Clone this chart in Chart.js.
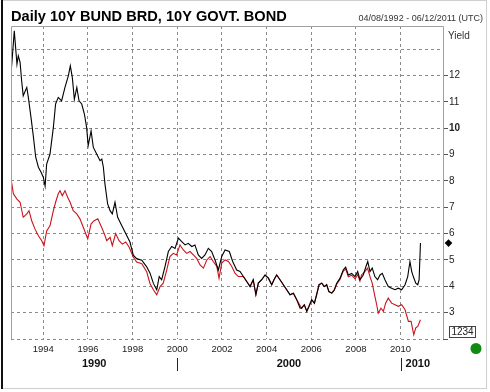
<!DOCTYPE html>
<html>
<head>
<meta charset="utf-8">
<script src="https://cdn.jsdelivr.net/npm/chart.js@4"></script>
<style>
html,body{margin:0;padding:0;background:#fff;}
#wrap{width:490px;height:392px;position:relative;}
</style>
</head>
<body>
<div id="wrap"><canvas id="c" width="490" height="392"></canvas></div>
<script>
// ---- data ----
const bundYears = [1992.55,1992.61,1992.70,1992.76,1992.82,1992.88,1992.96,1993.03,1993.10,1993.26,1993.33,1993.45,1993.55,1993.66,1993.78,1993.90,1994.00,1994.08,1994.15,1994.30,1994.45,1994.55,1994.67,1994.82,1994.97,1995.12,1995.21,1995.30,1995.39,1995.50,1995.60,1995.72,1995.84,1995.94,1996.01,1996.14,1996.24,1996.39,1996.54,1996.62,1996.69,1996.76,1996.88,1996.99,1997.09,1997.21,1997.33,1997.51,1997.69,1997.88,1998.03,1998.18,1998.41,1998.63,1998.78,1998.93,1999.08,1999.19,1999.30,1999.45,1999.60,1999.75,1999.90,2000.05,2000.20,2000.35,2000.49,2000.65,2000.79,2000.94,2001.09,2001.24,2001.39,2001.54,2001.69,2001.84,2001.99,2002.14,2002.33,2002.48,2002.66,2002.81,2002.96,2003.11,2003.26,2003.40,2003.52,2003.63,2003.78,2003.93,2004.08,2004.23,2004.33,2004.45,2004.60,2004.75,2004.90,2005.05,2005.20,2005.35,2005.50,2005.57,2005.69,2005.80,2005.90,2006.02,2006.14,2006.24,2006.35,2006.47,2006.58,2006.69,2006.79,2006.92,2007.03,2007.14,2007.29,2007.43,2007.54,2007.66,2007.81,2007.96,2008.08,2008.18,2008.33,2008.45,2008.53,2008.63,2008.73,2008.85,2008.97,2009.08,2009.18,2009.30,2009.45,2009.60,2009.75,2009.90,2010.05,2010.20,2010.32,2010.42,2010.50,2010.57,2010.68,2010.77,2010.83,2010.89];
const bundYield = [12.05,12.68,13.7,13.06,12.43,12.75,12.5,11.8,11.23,11.55,11.17,10.4,9.72,8.9,8.52,8.33,8.14,7.8,8.64,9.02,10.03,10.92,11.17,11.04,11.55,11.99,12.37,11.92,11.1,11.55,11.04,10.92,10.54,10.03,9.34,9.9,9.27,9.02,8.77,8.83,8.52,7.89,7.13,6.87,6.75,7.19,6.62,6.31,6.0,5.68,5.18,5.05,4.99,4.74,4.5,4.11,3.87,4.37,4.25,4.75,5.32,5.51,5.44,5.83,5.7,5.57,5.63,5.51,5.57,5.19,5.06,5.19,5.44,5.32,5.0,4.62,5.13,5.38,5.32,4.94,4.62,4.56,4.37,4.18,3.99,4.25,3.68,4.12,4.25,4.43,4.31,4.06,4.25,4.43,4.25,4.06,3.87,3.68,3.74,3.49,3.17,3.17,3.3,3.05,3.24,3.49,3.36,3.68,4.06,4.12,3.99,4.06,3.8,3.74,3.87,4.12,4.31,4.62,4.73,4.43,4.49,4.37,4.56,4.25,4.43,4.75,4.94,4.56,4.69,4.37,4.25,4.43,4.49,4.25,3.99,3.93,3.87,3.93,3.87,4.06,4.37,4.94,4.56,4.37,4.12,4.06,4.25,5.64];
const govtYears = [1992.55,1992.66,1992.81,1992.96,1993.10,1993.26,1993.36,1993.48,1993.63,1993.78,1993.93,1994.03,1994.15,1994.30,1994.45,1994.55,1994.67,1994.75,1994.85,1994.97,1995.09,1995.20,1995.34,1995.50,1995.64,1995.79,1995.99,1996.14,1996.28,1996.44,1996.58,1996.73,1996.84,1996.99,1997.09,1997.24,1997.39,1997.54,1997.69,1997.84,1998.03,1998.18,1998.41,1998.63,1998.78,1998.93,1999.08,1999.23,1999.37,1999.53,1999.67,1999.82,1999.97,2000.12,2000.27,2000.42,2000.57,2000.72,2000.87,2001.02,2001.17,2001.32,2001.47,2001.61,2001.77,2001.87,2001.99,2002.14,2002.29,2002.44,2002.59,2002.73,2002.96,2003.11,2003.26,2003.40,2003.52,2003.63,2003.78,2003.93,2004.08,2004.23,2004.33,2004.45,2004.60,2004.75,2004.90,2005.05,2005.20,2005.35,2005.57,2005.69,2005.80,2005.90,2006.02,2006.14,2006.24,2006.35,2006.47,2006.58,2006.69,2006.79,2006.92,2007.03,2007.14,2007.29,2007.43,2007.54,2007.66,2007.81,2007.96,2008.08,2008.18,2008.25,2008.40,2008.52,2008.63,2008.73,2008.82,2008.93,2009.00,2009.12,2009.23,2009.33,2009.45,2009.60,2009.75,2009.90,2010.05,2010.20,2010.35,2010.47,2010.59,2010.68,2010.77,2010.89];
const govtYield = [8.1,7.51,7.32,7.19,6.62,6.75,6.87,6.49,6.17,5.92,5.73,5.54,6.1,6.3,6.87,7.19,7.51,7.63,7.44,7.63,7.38,7.19,6.87,6.75,6.56,6.24,5.8,6.37,6.49,6.56,6.3,6.0,5.73,5.86,5.54,6.0,5.73,5.6,5.68,5.49,5.11,4.92,4.86,4.55,4.1,3.87,3.68,3.99,4.12,4.62,5.13,5.25,5.19,5.57,5.38,5.25,5.32,5.19,5.06,4.81,4.69,5.0,5.13,4.94,4.75,4.31,4.88,5.0,4.94,4.75,4.49,4.37,4.37,4.18,3.99,4.25,3.68,4.12,4.25,4.43,4.31,4.06,4.25,4.43,4.25,4.06,3.87,3.68,3.74,3.49,3.17,3.3,3.05,3.24,3.49,3.36,3.68,4.06,4.12,3.99,4.06,3.8,3.74,3.84,4.08,4.27,4.57,4.66,4.36,4.42,4.28,4.45,4.2,4.43,4.56,4.69,4.37,4.12,3.74,3.3,2.98,3.17,3.05,3.36,3.55,3.36,3.3,3.24,3.3,3.11,2.67,2.67,2.16,2.42,2.48,2.73];
const xTickYears = [1994,1996,1998,2000,2002,2004,2006,2008,2010];
const yTickValues = [2,3,4,5,6,7,8,9,10,11,12,13];
const decades = [{label:'1990',from:1990,to:2000},{label:'2000',from:2000,to:2010},{label:'2010',from:2010,to:2020}];
const titleText = 'Daily 10Y BUND BRD, 10Y GOVT. BOND';
const rangeText = '04/08/1992 - 06/12/2011 (UTC)';
const axisName = 'Yield';
const xMin = 1992.553, xMax = 2011.9, yMin = 2, yMax = 13.88;

function pts(xs, ys){ return xs.map((x,i)=>({x:x, y:ys[i]})); }

const FONT = 'Arial, "Liberation Sans", sans-serif';

const decor = {
  id:'decor',
  afterDraw(chart){
    const ctx = chart.ctx, a = chart.chartArea;
    const xs = chart.scales.x, ys = chart.scales.y;
    ctx.save();
    // outer frame
    ctx.strokeStyle = '#cfcfcf'; ctx.lineWidth = 1;
    ctx.strokeRect(2.5, 0.5, 484, 388);
    ctx.strokeStyle = '#111'; ctx.lineWidth = 2;
    ctx.beginPath(); ctx.moveTo(2, 0); ctx.lineTo(2, 389); ctx.stroke();
    // plot box (left, top, right)
    ctx.strokeStyle = '#a0a0a0'; ctx.lineWidth = 1;
    ctx.beginPath();
    ctx.moveTo(a.left + 0.5, a.bottom); ctx.lineTo(a.left + 0.5, a.top + 0.5);
    ctx.lineTo(a.right + 0.5, a.top + 0.5); ctx.lineTo(a.right + 0.5, a.bottom);
    ctx.stroke();
    // title
    ctx.fillStyle = '#000';
    ctx.font = 'bold 14.6px ' + FONT;
    ctx.textAlign = 'left'; ctx.textBaseline = 'alphabetic';
    ctx.fillText(titleText, 11, 20.5);
    ctx.fillStyle = '#333';
    ctx.font = '9px ' + FONT;
    ctx.textAlign = 'right';
    ctx.fillText(rangeText, 483, 20.5);
    ctx.textAlign = 'left';
    ctx.font = '10px ' + FONT;
    ctx.fillText(axisName, 448, 39);
    // decade row
    ctx.fillStyle = '#111';
    ctx.font = 'bold 11px ' + FONT;
    ctx.textBaseline = 'middle';
    ctx.strokeStyle = '#222'; ctx.lineWidth = 1;
    decades.forEach(d => {
      const f = Math.max(d.from, xMin), t = Math.min(d.to, xMax);
      const px1 = xs.getPixelForValue(f), px2 = xs.getPixelForValue(t);
      if (d.from > xMin) {
        const sx = Math.round(px1) + 0.5;
        ctx.beginPath(); ctx.moveTo(sx, 358); ctx.lineTo(sx, 371); ctx.stroke();
      }
      if (d.to > xMax) { ctx.textAlign = 'left'; ctx.fillText(d.label, px1 + 5, 363.5); }
      else { ctx.textAlign = 'center'; ctx.fillText(d.label, (px1 + px2) / 2, 363.5); }
    });
    // last value diamond
    const last = bundYield[bundYield.length - 1];
    const dy = ys.getPixelForValue(last), dx = a.right + 5.5;
    ctx.fillStyle = '#000';
    ctx.beginPath(); ctx.moveTo(dx, dy - 3.8); ctx.lineTo(dx + 3.8, dy); ctx.lineTo(dx, dy + 3.8); ctx.lineTo(dx - 3.8, dy); ctx.closePath(); ctx.fill();
    // "1234" box
    ctx.fillStyle = '#fff'; ctx.fillRect(449.5, 326.5, 26, 11);
    ctx.strokeStyle = '#444'; ctx.strokeRect(449.5, 326.5, 26, 11);
    ctx.fillStyle = '#222'; ctx.font = '10px ' + FONT; ctx.textAlign = 'center'; ctx.textBaseline = 'middle';
    ctx.fillText('1234', 462.5, 332.5);
    // green dot
    ctx.fillStyle = '#128a12';
    ctx.beginPath(); ctx.arc(476, 348.5, 5.5, 0, Math.PI * 2); ctx.fill();
    ctx.restore();
  }
};

new Chart(document.getElementById('c'), {
  type: 'line',
  data: {
    datasets: [
      { label: '10Y BUND BRD', data: pts(bundYears, bundYield), borderColor: '#000', borderWidth: 1.1, pointRadius: 0, tension: 0 },
      { label: '10Y GOVT. BOND', data: pts(govtYears, govtYield), borderColor: '#c8141b', borderWidth: 1.1, pointRadius: 0, tension: 0 }
    ]
  },
  options: {
    responsive: false,
    animation: false,
    layout: { padding: { top: 26, left: 11, right: 0, bottom: 0 } },
    plugins: { legend: { display: false }, tooltip: { enabled: false } },
    scales: {
      x: {
        type: 'linear', position: 'bottom', min: xMin, max: xMax,
        afterBuildTicks: s => { s.ticks = xTickYears.map(v => ({ value: v })); },
        afterFit: s => { s.height = 53; },
        grid: { color: '#8a8a8a', drawTicks: false, lineWidth: 1 },
        border: { display: false, dash: [3, 3] },
        ticks: { padding: 5, color: '#222', maxRotation: 0, autoSkip: false,
          font: { family: FONT, size: 9.5 }, callback: v => String(v) }
      },
      y: {
        type: 'linear', position: 'right', min: yMin, max: yMax,
        afterBuildTicks: s => { s.ticks = yTickValues.map(v => ({ value: v })); },
        afterFit: s => { s.width = 47; },
        grid: { color: '#8a8a8a', drawTicks: true, tickLength: 5, lineWidth: 1,
          tickColor: c => (c.tick && c.tick.value === 13) ? 'rgba(0,0,0,0)' : '#555', tickBorderDash: [] },
        border: { display: false, dash: [3, 3] },
        ticks: { padding: 1, color: '#222', autoSkip: false,
          font: c => ({ family: FONT, size: 10, weight: (c.tick && c.tick.value === 10) ? 'bold' : 'normal' }),
          callback: v => (v === 2 || v === 13) ? '' : String(v) }
      }
    }
  },
  plugins: [decor]
});
</script>
</body>
</html>
